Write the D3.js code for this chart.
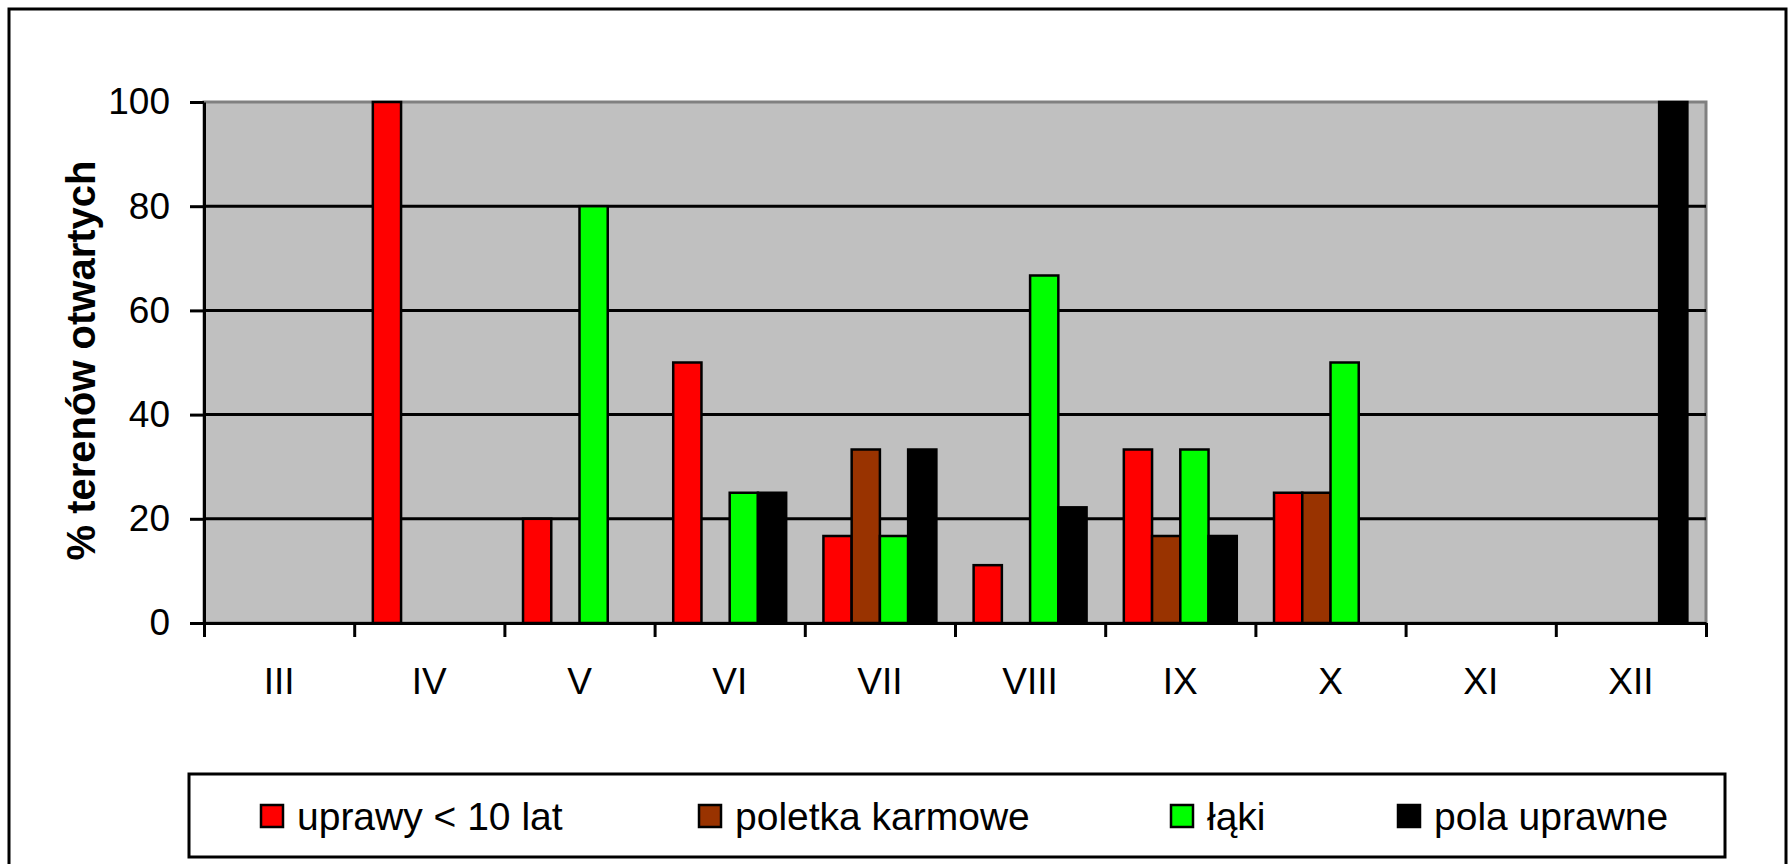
<!DOCTYPE html>
<html>
<head>
<meta charset="utf-8">
<script src="https://cdn.jsdelivr.net/npm/d3@7"></script>
<style>
  body { margin: 0; background: #fff; }
  svg { display: block; font-family: 'Liberation Sans', Arial, sans-serif; }
</style>
</head>
<body>
<svg></svg>
<script>

let months = ['III', 'IV', 'V', 'VI', 'VII', 'VIII', 'IX', 'X', 'XI', 'XII']
let seriesNames = ['uprawy < 10 lat', 'poletka karmowe', 'łąki', 'pola uprawne']
let colors = ['#ff0000', '#993300', '#00ff00', '#000000']

// % terenow otwartych per month
let uprawy = [0, 100, 20, 50, 16.7, 11.1, 33.3, 25, 0, 0]
let poletka = [0, 0, 0, 0, 33.3, 0, 16.7, 25, 0, 0]
let laki = [0, 0, 80, 25, 16.7, 66.7, 33.3, 50, 0, 0]
let pola = [0, 0, 0, 25, 33.3, 22.2, 16.7, 0, 0, 100]

let yTicks = [0, 20, 40, 60, 80, 100]

let series = [uprawy, poletka, laki, pola]

let width = 1790, height = 864
let plot = { left: 204, right: 1706, top: 102, bottom: 623 }

let svg = d3.select('svg').attr('width', width).attr('height', height)

// outer frame
svg.append('rect')
  .attr('x', 9).attr('y', 9)
  .attr('width', 1777).attr('height', 900)
  .attr('fill', 'none')
  .attr('stroke', '#000')
  .attr('stroke-width', 3)

let x0 = d3.scaleBand()
  .domain(months)
  .range([plot.left, plot.right])
  .paddingInner(0.248)
  .paddingOuter(0.124)

let x1 = d3.scaleBand()
  .domain(d3.range(seriesNames.length))
  .range([0, x0.bandwidth()])

let xEdge = d3.scaleLinear()
  .domain([0, months.length])
  .range([plot.left, plot.right])

let y = d3.scaleLinear()
  .domain([0, 100])
  .range([plot.bottom, plot.top])

// plot area
svg.append('rect')
  .attr('x', plot.left).attr('y', plot.top)
  .attr('width', plot.right - plot.left)
  .attr('height', plot.bottom - plot.top)
  .attr('fill', '#c0c0c0')
  .attr('stroke', '#808080')
  .attr('stroke-width', 3)

// gridlines
svg.append('g')
  .selectAll('line')
  .data(yTicks.filter(d => d > 0 && d < 100))
  .enter().append('line')
  .attr('x1', plot.left).attr('x2', plot.right)
  .attr('y1', d => y(d)).attr('y2', d => y(d))
  .attr('stroke', '#000')
  .attr('stroke-width', 3)

// bars
let bars = []
months.forEach((m, i) => {
  series.forEach((s, j) => {
    if (s[i] > 0) bars.push({ month: m, idx: j, value: s[i] })
  })
})

svg.append('g')
  .selectAll('rect')
  .data(bars)
  .enter().append('rect')
  .attr('x', d => x0(d.month) + x1(d.idx))
  .attr('y', d => y(d.value))
  .attr('width', x1.bandwidth())
  .attr('height', d => y(0) - y(d.value))
  .attr('fill', d => colors[d.idx])
  .attr('stroke', '#000')
  .attr('stroke-width', 2.5)

// y axis
let yAxis = svg.append('g')
  .attr('transform', 'translate(' + plot.left + ',0)')
  .call(d3.axisLeft(y).tickValues(yTicks).tickSize(14).tickPadding(20).tickSizeOuter(0))

yAxis.selectAll('text')
  .attr('font-size', 37)
  .attr('font-family', "'Liberation Sans', Arial, sans-serif")
  .attr('fill', '#000')
yAxis.selectAll('line, path').attr('stroke', '#000').attr('stroke-width', 3)

// x axis: tick marks on category edges
let xAxis = svg.append('g')
  .attr('transform', 'translate(0,' + plot.bottom + ')')
  .call(d3.axisBottom(xEdge).ticks(months.length).tickSize(14).tickFormat('').tickSizeOuter(0))
xAxis.selectAll('line, path').attr('stroke', '#000').attr('stroke-width', 3)

let xLabels = svg.append('g')
  .attr('transform', 'translate(0,' + plot.bottom + ')')
  .call(d3.axisBottom(x0).tickSize(0).tickPadding(45))
xLabels.select('.domain').remove()
xLabels.selectAll('text')
  .attr('font-size', 37)
  .attr('font-family', "'Liberation Sans', Arial, sans-serif")
  .attr('fill', '#000')

// y axis title
svg.append('text')
  .attr('transform', 'translate(95,' + ((plot.top + plot.bottom) / 2 - 2) + ') rotate(-90)')
  .attr('text-anchor', 'middle')
  .attr('font-size', 40)
  .attr('font-weight', 'bold')
  .text('% terenów otwartych')

// legend
let legend = svg.append('g')
legend.append('rect')
  .attr('x', 189).attr('y', 774)
  .attr('width', 1536).attr('height', 83)
  .attr('fill', '#fff')
  .attr('stroke', '#000')
  .attr('stroke-width', 3)

let legendX = [260, 698, 1170, 1397]

let item = legend.selectAll('g.item')
  .data(seriesNames)
  .enter().append('g')
  .attr('class', 'item')
  .attr('transform', (d, i) => 'translate(' + legendX[i] + ',0)')

item.append('rect')
  .attr('x', 1).attr('y', 805)
  .attr('width', 22).attr('height', 22)
  .attr('fill', (d, i) => colors[i])
  .attr('stroke', '#000')
  .attr('stroke-width', 2.5)

item.append('text')
  .attr('x', 37).attr('y', 830)
  .attr('font-size', 39)
  .text(d => d)

</script>
</body>
</html>
